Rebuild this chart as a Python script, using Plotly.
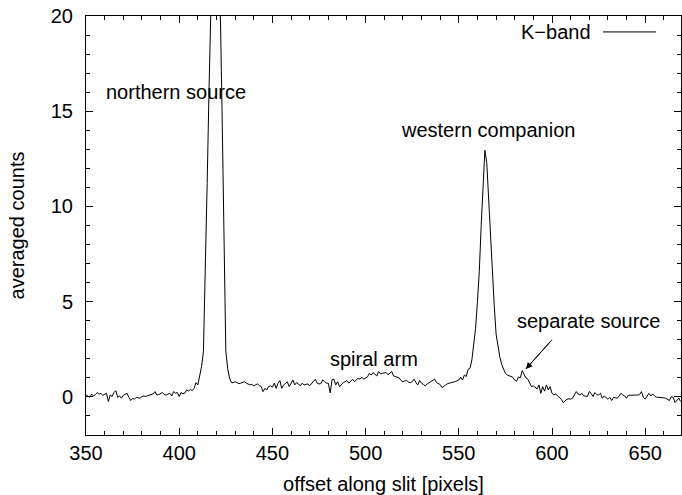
import plotly.graph_objects as go

x_start = 350
counts = [
    # 350-359
    0.1, 0.05, -0.02, 0.15, 0.05, 0.12, 0.23, 0.14, 0.19, 0.08,
    # 360-369
    0.15, 0.19, -0.24, 0.1, 0.02, 0.23, 0.33, -0.02, 0.05, -0.07,
    # 370-379
    0.08, 0.12, 0.19, -0.02, -0.19, -0.08, -0.12, -0.02, -0.05, -0.07,
    # 380-389
    0.02, 0.05, 0.02, 0.06, 0.1, 0.12, 0.16, 0.28, 0.1, 0.12,
    # 390-399
    0.16, 0.23, 0.12, 0.1, 0.15, 0.19, 0.05, 0.28, 0.2, 0.23,
    # 400-409
    0.02, 0.23, 0.16, 0.2, 0.37, 0.3, 0.4, 0.33, 0.45, 0.75,
    # 410-419
    0.63, 1.1, 1.6, 2.4, 6.4, 11.2, 16.1, 21.0, 26.0, 29.0,
    # 420-429
    27.0, 24.0, 20.5, 15.0, 8.7, 2.4, 1.5, 1.0, 0.75, 0.75,
    # 430-439
    0.8, 0.75, 0.7, 0.72, 0.78, 0.8, 0.72, 0.68, 0.63, 0.66,
    # 440-449
    0.58, 0.64, 0.68, 0.6, 0.54, 0.28, 0.45, 0.37, 0.55, 0.58,
    # 450-459
    0.51, 0.72, 0.45, 0.72, 0.86, 0.45, 0.63, 0.7, 0.8, 0.54,
    # 460-469
    0.72, 0.89, 0.63, 0.75, 0.68, 0.58, 0.72, 0.63, 0.66, 0.68,
    # 470-479
    0.58, 0.7, 0.8, 0.93, 0.72, 0.68, 0.7, 0.89, 0.8, 0.72,
    # 480-489
    0.72, 0.21, 0.9, 0.93, 0.63, 0.8, 0.54, 0.65, 0.75, 0.8,
    # 490-499
    0.86, 0.72, 0.8, 0.93, 0.8, 0.9, 0.98, 0.93, 1.03, 0.93,
    # 500-509
    0.98, 1.05, 1.24, 1.15, 1.28, 1.2, 1.1, 1.33, 1.21, 1.24,
    # 510-519
    1.26, 1.28, 1.16, 1.25, 1.33, 1.1, 1.07, 1.05, 1.0, 0.86,
    # 520-529
    0.8, 0.84, 0.86, 0.78, 0.75, 0.8, 0.93, 0.75, 0.63, 0.86,
    # 530-539
    0.72, 0.65, 0.58, 0.68, 0.75, 0.82, 0.86, 0.93, 0.75, 0.7,
    # 540-549
    0.65, 0.49, 0.58, 0.63, 0.7, 0.72, 0.75, 0.78, 0.8, 0.85,
    # 550-559
    0.89, 1.03, 0.89, 1.15, 1.07, 1.45, 1.5, 1.94, 2.7, 3.6,
    # 560-569
    5.0, 6.6, 9.0, 11.4, 12.95, 12.3, 10.3, 8.2, 6.5, 4.8,
    # 570-579
    3.3, 2.6, 2.1, 1.7, 1.5, 1.24, 1.15, 1.1, 1.07, 1.03,
    # 580-589
    0.88, 0.82, 1.05, 1.0, 1.38, 1.2, 1.0, 0.93, 0.75, 0.54,
    # 590-599
    0.58, 0.5, 0.42, 0.63, 0.19, 0.54, 0.3, 0.63, 0.37, 0.54,
    # 600-609
    0.19, 0.1, 0.16, 0.05, -0.05, -0.12, -0.3, -0.2, -0.12, -0.1,
    # 610-619
    -0.12, -0.07, 0.08, 0.28, 0.15, 0.1, 0.19, 0.05, 0.04, 0.02,
    # 620-629
    0.28, 0.19, 0.02, 0.23, 0.12, 0.1, 0.19, -0.07, 0.05, -0.05,
    # 630-639
    -0.12, -0.02, -0.19, -0.02, -0.05, -0.07, 0.05, 0.19, 0.1, 0.05,
    # 640-649
    -0.07, 0.1, 0.08, 0.1, 0.1, 0.1, 0.1, 0.12, 0.28, -0.02,
    # 650-659
    -0.12, 0.05, 0.19, 0.05, 0.16, 0.05, -0.02, -0.02, -0.02, -0.02,
    # 660-669
    -0.05, -0.07, -0.12, -0.19, 0.02, -0.02, -0.3, -0.16, -0.07, -0.24,
]
offsets = list(range(x_start, x_start + len(counts)))

labels = ["northern source", "western companion", "spiral arm", "separate source"]
label_x = [359.5, 518, 480, 580]
label_y = [16, 14, 2, 4]

arrow_from = (600, 3.0)
arrow_to = (586, 1.47)

font = "Liberation Sans, Arial, Helvetica, sans-serif"

fig = go.Figure()
fig.add_trace(go.Scatter(x=offsets, y=counts, mode="lines",
                         line=dict(color="black", width=1),
                         name="K\u2212band", showlegend=False))

for t, lx, ly in zip(labels, label_x, label_y):
    fig.add_annotation(x=lx, y=ly, text=t, showarrow=False,
                       xanchor="left", yanchor="middle",
                       font=dict(size=20, color="black", family=font))

# arrow pointing at the separate source
fig.add_shape(type="line", xref="x", yref="y",
              x0=arrow_from[0], y0=arrow_from[1], x1=arrow_to[0], y1=arrow_to[1],
              line=dict(color="black", width=1))
fig.add_annotation(x=arrow_to[0], y=arrow_to[1], ax=arrow_from[0], ay=arrow_from[1],
                   axref="x", ayref="y", xref="x", yref="y", text="",
                   showarrow=True, arrowhead=2, arrowsize=1.3, arrowwidth=1,
                   startstandoff=0, standoff=0, arrowcolor="black")

# legend (key: text then line sample)
fig.add_annotation(xref="paper", yref="paper", x=0.852, y=0.962, text="K\u2212band",
                   showarrow=False, xanchor="right", yanchor="middle",
                   font=dict(size=20, color="black", family=font))
fig.add_shape(type="line", xref="paper", yref="paper", x0=0.869, x1=0.958,
              y0=0.962, y1=0.962, line=dict(color="black", width=1))

axis_common = dict(showgrid=False, zeroline=False, showline=True, linecolor="black",
                   linewidth=1, mirror="allticks", ticks="inside", ticklen=7,
                   tickwidth=1, tickcolor="black", automargin=False,
                   tickfont=dict(size=20, color="black", family=font))

fig.update_xaxes(range=[350, 669.2], dtick=50, tick0=350,
                 minor=dict(dtick=10, ticks="inside", ticklen=4, tickcolor="black"),
                 title=dict(text="offset along slit [pixels]", standoff=14,
                            font=dict(size=20, color="black", family=font)),
                 **axis_common)
fig.update_yaxes(range=[-2, 20.001], dtick=5, tick0=0,
                 minor=dict(dtick=1, ticks="inside", ticklen=4, tickcolor="black"),
                 ticklabelstandoff=8,
                 title=dict(text="averaged counts", standoff=20,
                            font=dict(size=20, color="black", family=font)),
                 **axis_common)

fig.update_layout(width=682, height=495,
                  margin=dict(l=86, r=1, t=16, b=60),
                  plot_bgcolor="white", paper_bgcolor="white",
                  showlegend=False)

fig.write_html("out.html", config={"displayModeBar": False},
               post_script="document.body.style.margin='0px';")
